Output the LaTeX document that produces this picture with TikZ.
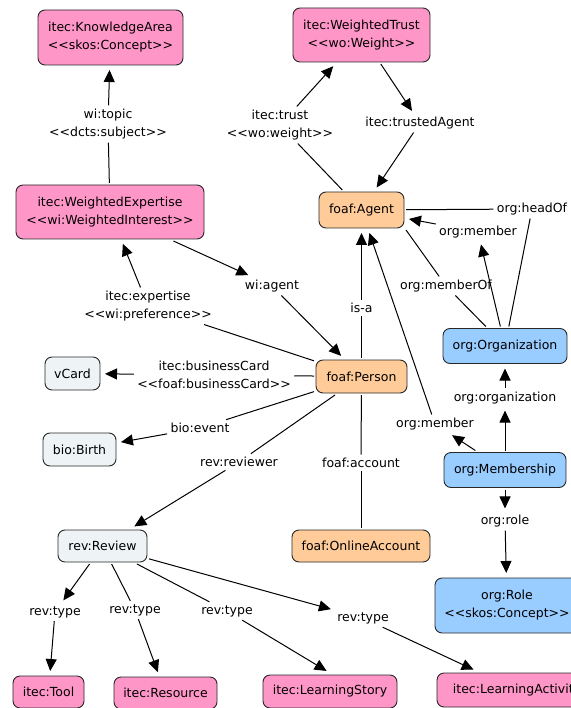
\documentclass[tikz,border=0pt]{standalone}
\usepackage{fontspec}
\setmainfont{DejaVu Sans}
\usetikzlibrary{arrows.meta}
\definecolor{cpink}{RGB}{255,150,200}
\definecolor{corange}{RGB}{255,204,153}
\definecolor{cblue}{RGB}{153,204,255}
\definecolor{cpale}{RGB}{238,244,246}
\definecolor{cborder}{RGB}{40,40,40}
\begin{document}
\begin{tikzpicture}[x=1pt,y=-1pt,
  font=\fontsize{12.5}{18}\selectfont,
  concept/.style={draw=cborder, line width=0.9pt, rounded corners=7pt, align=center, inner sep=0pt, outer sep=2pt},
  pinkc/.style={concept, fill=cpink},
  orangec/.style={concept, fill=corange},
  bluec/.style={concept, fill=cblue},
  palec/.style={concept, fill=cpale},
  lab/.style={align=center, inner sep=2.5pt, outer sep=1pt},
  conn/.style={line width=1pt},
  arr/.style={conn, -{Triangle[length=12pt,width=11pt]}, shorten >=3pt}]
\useasboundingbox (0,0) rectangle (570,708);
% concepts
\node[pinkc, minimum width=145pt, minimum height=55pt] (ka) at (110.5,37.5) {itec:KnowledgeArea\\<{}<skos:Concept>{}>};
\node[pinkc, minimum width=137pt, minimum height=54pt] (wt) at (361.5,35) {itec:WeightedTrust\\<{}<wo:Weight>{}>};
\node[pinkc, minimum width=188pt, minimum height=54pt] (we) at (110,212) {itec:WeightedExpertise\\<{}<wi:WeightedInterest>{}>};
\node[orangec, minimum width=85pt, minimum height=36pt] (agent) at (361.5,210) {foaf:Agent};
\node[bluec, minimum width=124pt, minimum height=35pt] (org) at (505,346) {org:Organization};
\node[orangec, minimum width=91pt, minimum height=33pt] (person) at (361.5,376.5) {foaf:Person};
\node[palec, minimum width=55pt, minimum height=33pt] (vcard) at (72.5,373.5) {vCard};
\node[palec, minimum width=73pt, minimum height=33pt] (birth) at (79.5,449.5) {bio:Birth};
\node[bluec, minimum width=122pt, minimum height=35pt] (memb) at (505,470) {org:Membership};
\node[orangec, minimum width=138pt, minimum height=32pt] (online) at (361,546) {foaf:OnlineAccount};
\node[palec, minimum width=89pt, minimum height=32pt] (review) at (102.5,546) {rev:Review};
\node[bluec, minimum width=144pt, minimum height=55pt] (role) at (507,605.5) {org:Role\\<{}<skos:Concept>{}>};
\node[pinkc, minimum width=71pt, minimum height=32pt] (tool) at (48.5,692) {itec:Tool};
\node[pinkc, minimum width=103pt, minimum height=32pt] (resource) at (165.5,693) {itec:Resource};
\node[pinkc, minimum width=134pt, minimum height=33pt] (story) at (330,691.5) {itec:LearningStory};
\node[pinkc, minimum width=160pt, minimum height=34pt] (activity) at (517,690) {itec:LearningActivity};
% linking phrases
\node[lab] (l1) at (108,124) {wi:topic\\<{}<dcts:subject>{}>};
\node[lab] (l2) at (280,125) {itec:trust\\<{}<wo:weight>{}>};
\node[lab] (l3) at (420,123) {itec:trustedAgent};
\node[lab] (l4) at (272,286) {wi:agent};
\node[lab] (l5) at (148,306) {itec:expertise\\<{}<wi:preference>{}>};
\node[lab] (l6) at (214,375) {itec:businessCard\\<{}<foaf:businessCard>{}>};
\node[lab] (l7) at (200,428) {bio:event};
\node[lab] (l8) at (239,462) {rev:reviewer};
\node[lab] (l9) at (361.5,308) {is-a};
\node[lab] (l10) at (435,424) {org:member};
\node[lab] (l11) at (361,463) {foaf:account};
\node[lab] (l12) at (446,286) {org:memberOf};
\node[lab] (l13) at (478,232) {org:member};
\node[lab] (l14) at (532,209) {org:headOf};
\node[lab] (l15) at (505,398) {org:organization};
\node[lab] (l16) at (505,521) {org:role};
\node[lab] (l17) at (55,612) {rev:type};
\node[lab] (l18) at (135,610) {rev:type};
\node[lab] (l19) at (227,611) {rev:type};
\node[lab] (l20) at (363,618) {rev:type};
% connectors
\draw[conn] (we) -- (l1);
\draw[arr] (l1) -- (ka);
\draw[conn] (agent) -- (l2);
\draw[arr] (l2) -- (wt);
\draw[arr] (wt) -- (l3);
\draw[arr] (l3) -- (agent);
\draw[arr] (we) -- (l4);
\draw[arr] (l4) -- (person);
\draw[conn] (person) -- (l5);
\draw[arr] (l5) -- (we);
\draw[conn] (person) -- (l6);
\draw[arr] (l6) -- (vcard);
\draw[conn] (person) -- (l7);
\draw[arr] (l7) -- (birth);
\draw[conn] (person) -- (l8);
\draw[arr] (l8) -- (review);
\draw[conn] (person) -- (l9);
\draw[arr] (l9) -- (agent);
\draw[arr] (memb) -- (l10);
\draw[arr] (l10) -- (agent);
\draw[conn] (person) -- (l11);
\draw[conn] (l11) -- (online);
\draw[conn] (agent.south east) -- (l12);
\draw[conn] (l12) -- (org);
\draw[arr] (org) -- (l13);
\draw[arr] (l13) -- (agent);
\draw[conn] (agent) -- (l14);
\draw[conn] (org) -- (l14);
\draw[arr] (memb) -- (l15);
\draw[arr] (l15) -- (org);
\draw[arr] (memb) -- (l16);
\draw[arr] (l16) -- (role);
\draw[arr] (review) -- (l17);
\draw[arr] (l17) -- (tool);
\draw[conn] (review) -- (l18);
\draw[arr] (l18) -- (resource);
\draw[conn] (review) -- (l19);
\draw[arr, shorten >=4pt] (l19) -- (story.north);
\draw[arr] (review) -- (l20);
\draw[arr] (l20) -- (activity);
\end{tikzpicture}
\end{document}
